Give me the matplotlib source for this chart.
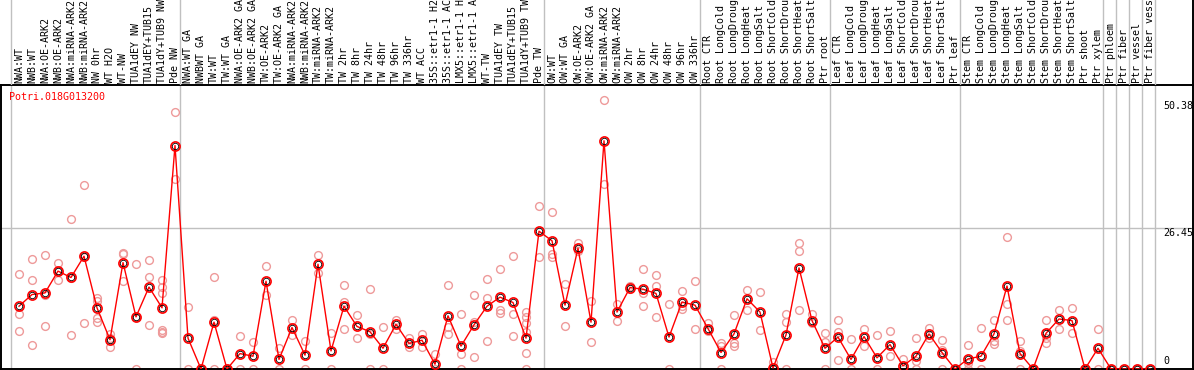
import matplotlib
matplotlib.use("Agg")
import matplotlib.pyplot as plt
import numpy as np

# sample labels (truncated as in the source image)
labels = [
    "NWA:WT", "NWB:WT", "NWA:OE-ARK2", "NWB:OE-ARK2", "NWA:miRNA-ARK2",
    "NWB:miRNA-ARK2", "NW 0hr", "WT H2O", "WT-NW", "TUA1dEY NW",
    "TUA1dEY+TUB15", "TUA1dY+TUB9 NW", "Pde NW",
    "NWA:WT GA", "NWBWT GA", "TW:WT", "TW:WT GA", "NWA:OE-ARK2 GA",
    "NWB:OE-ARK2 GA", "TW:OE-ARK2", "TW:OE-ARK2 GA", "NWA:miRNA-ARK2",
    "NWB:miRNA-ARK2", "TW:miRNA-ARK2", "TW:miRNA-ARK2", "TW 2hr", "TW 8hr",
    "TW 24hr", "TW 48hr", "TW 96hr", "TW 336hr", "WT ACC", "35S::etr1-1 H2",
    "35S::etr1-1 AC", "LMX5::etr1-1 H", "LMX5::etr1-1 A", "WT-TW",
    "TUA1dEY TW", "TUA1dEY+TUB15", "TUA1dY+TUB9 TW", "Pde TW",
    "OW:WT", "OW:WT GA", "OW:OE-ARK2", "OW:OE-ARK2 GA", "OW:miRNA-ARK2",
    "OW:miRNA-ARK2", "OW 2hr", "OW 8hr", "OW 24hr", "OW 48hr", "OW 96hr",
    "OW 336hr",
    "Root CTR", "Root LongCold", "Root LongDroug", "Root LongHeat",
    "Root LongSalt", "Root ShortCold", "Root ShortDrou", "Root ShortHeat",
    "Root ShortSalt", "Ptr root",
    "Leaf CTR", "Leaf LongCold", "Leaf LongDroug", "Leaf LongHeat",
    "Leaf LongSalt", "Leaf ShortCold", "Leaf ShortDrou", "Leaf ShortHeat",
    "Leaf ShortSalt", "Ptr leaf",
    "Stem CTR", "Stem LongCold", "Stem LongDroug", "Stem LongHeat",
    "Stem LongSalt", "Stem ShortCold", "Stem ShortDrou", "Stem ShortHeat",
    "Stem ShortSalt", "Ptr shoot", "Ptr xylem",
    "Ptr phloem", "Ptr fiber", "Ptr vessel", "Ptr fiber vess",
]

means = [
    11.8, 14.0, 14.3, 18.4, 17.2, 21.2, 11.5, 5.5, 20.0, 9.8, 15.4, 11.5, 42.0,
    5.8, 0, 8.8, 0, 2.9, 2.4, 16.5, 1.8, 7.8, 2.6, 19.7, 3.4, 11.8, 8.0, 7.0,
    3.9, 8.4, 4.8, 5.4, 0.9, 10.0, 4.3, 8.3, 11.8, 13.5, 12.5, 5.8, 25.9,
    24.1, 12.0, 22.7, 8.8, 42.9, 10.7, 15.3, 15.0, 14.2, 6.0, 12.6, 12.0,
    7.6, 3.1, 6.6, 13.2, 10.7, 0.2, 6.4, 19.0, 9.1, 3.9,
    6.0, 1.8, 6.1, 2.1, 4.6, 0.6, 2.4, 6.6, 3.1, 0,
    1.9, 2.4, 6.6, 15.6, 2.9, 0, 6.7, 9.4, 9.1, 0, 3.9,
    0, 0, 0, 0,
]

reps = [
    [17.8, 10.3, 7.1], [20.7, 16.7, 4.5], [21.4, 13.9, 8.1], [20.0, 16.7, 18.5],
    [28.2, 17.1, 6.4], [34.6, 21.1, 8.6], [13.3, 12.7, 9.5, 8.9], [6.5, 5.8, 4.1],
    [21.8, 16.5, 21.7], [19.7, 9.7, 0], [20.5, 17.2, 8.3],
    [16.7, 15.5, 14.2, 7.3, 7.0, 6.8], [48.3, 35.8],
    [11.7, 0], [0, 0], [17.2, 9.2, 0], [0, 0], [6.2, 0], [5.1, 0], [19.4, 13.9],
    [3.9, 0], [9.2, 6.4], [5.3, 0], [21.4, 18.1], [6.7, 0], [15.7, 12.5, 7.5],
    [10.2, 5.8], [15.0, 6.5, 0], [7.9, 0], [9.2, 7.6], [5.8, 4.1], [6.6, 4.1],
    [2.9, 0], [15.7, 7.9, 6.5], [10.3, 2.9, 0], [14.0, 8.8, 2.2],
    [17.0, 13.3, 5.2], [18.8, 11.0, 10.6], [21.2, 10.3, 6.2],
    [10.8, 9.8, 8.6, 7.0, 3.1, 0], [30.6, 21.0],
    [29.5, 21.6, 21.0], [15.9, 8.1], [23.6, 22.2], [12.8, 5.1], [50.6, 34.7],
    [12.2, 9.0], [15.6, 15.0], [18.8, 14.2, 11.8], [17.6, 15.6, 9.8], [12.2, 0],
    [14.7, 11.3, 11.8], [16.5, 7.5],
    [8.6, 7.2], [4.8, 4.3, 0], [10.2, 4.8, 4.3], [14.8, 11.1], [14.5, 7.3],
    [1.4, 0], [10.3, 8.8, 0], [23.6, 22.1, 11.0], [10.3, 8.6], [6.7, 5.1, 0],
    [9.3, 7.0, 1.6], [5.6, 0], [7.5, 4.3], [6.4, 0], [7.1, 2.4], [1.9, 0],
    [5.8, 1.5, 0], [7.8, 5.8], [5.4, 3.6, 0], [0],
    [4.5, 1.1, 0], [7.7, 0], [9.3, 5.3, 4.7], [24.9, 12.2, 9.3], [5.3, 3.4, 0],
    [0], [9.2, 5.8, 4.8], [11.1, 7.5], [11.5, 6.7], [0], [7.5, 0],
    [0], [0], [0], [0],
]

# first sample of each group (a separator is drawn before it), plus the end
group_starts = [0, 13, 41, 53, 63, 73, 84, 85, 86, 87, 88]

gene = "Potri.018G013200"
tick_vals = [50.38, 26.45, 0]
grid_val = 26.45

W, H = 1194, 370
mono = "DejaVu Sans Mono"
grey = "#c0c0c0"

fig = plt.figure(figsize=(W / 100, H / 100), dpi=100)
ax = fig.add_axes([1 / W, 1 / H, 1192 / W, 284 / H])
ax_lab = fig.add_axes([1 / W, 285 / H, 1192 / W, 85 / H], sharex=ax)

x = np.arange(len(labels))

# replicates
for i, r in enumerate(reps):
    ax.plot([i] * len(r), r, "o", ms=5.6, mfc="none", mec="#ee9a9a",
            mew=1.0, zorder=2)

# mean line + markers
ax.plot(x, means, "-", color="#ff0000", lw=1.0, zorder=3)
ax.plot(x, means, "o", ms=6.6, mfc="none", mec="#ff0000", mew=1.2, zorder=4)
ax.plot(x, means, "o", ms=4.6, mfc="none", mec="#000000", mew=0.6, zorder=5)

for a in (ax, ax_lab):
    for g in group_starts:
        a.axvline(g - 8 / 13, color=grey, lw=1.0, zorder=1)
ax.axhline(grid_val, color=grey, lw=1.0, zorder=1)

ax.set_xlim((1 - 19) / 13, (1193 - 19) / 13)
ax.set_ylim(0, 53.38)
ax.set_xticks([])
ax.set_yticks([])
for s in ax.spines.values():
    s.set_linewidth(1.4)
    s.set_color("black")

ax_lab.set_ylim(0, 1)
ax_lab.axis("off")
ax_lab.plot([1, 1], [0, 1], transform=ax_lab.transAxes, color="black",
            lw=1.4, clip_on=False)

trans = ax_lab.get_xaxis_transform()
for i, lab in enumerate(labels):
    ax_lab.text(i, 2 / 85, lab, rotation=90, ha="center", va="bottom",
                fontsize=7.2, family=mono, transform=trans)

ax.text(8 / 1192, (369 - 97) / 284, gene, color="#ff0000", fontsize=7.2,
        family=mono, ha="left", va="center", transform=ax.transAxes)

tx = (1163 - 19) / 13
for v in tick_vals:
    if v == 0:
        ax.text(tx, 0.6, "0", fontsize=7.2, family=mono, ha="left",
                va="bottom")
    else:
        ax.text(tx, v, f"{v:.2f}", fontsize=7.2, family=mono, ha="left",
                va="top")

fig.savefig("out.png", dpi=100)
